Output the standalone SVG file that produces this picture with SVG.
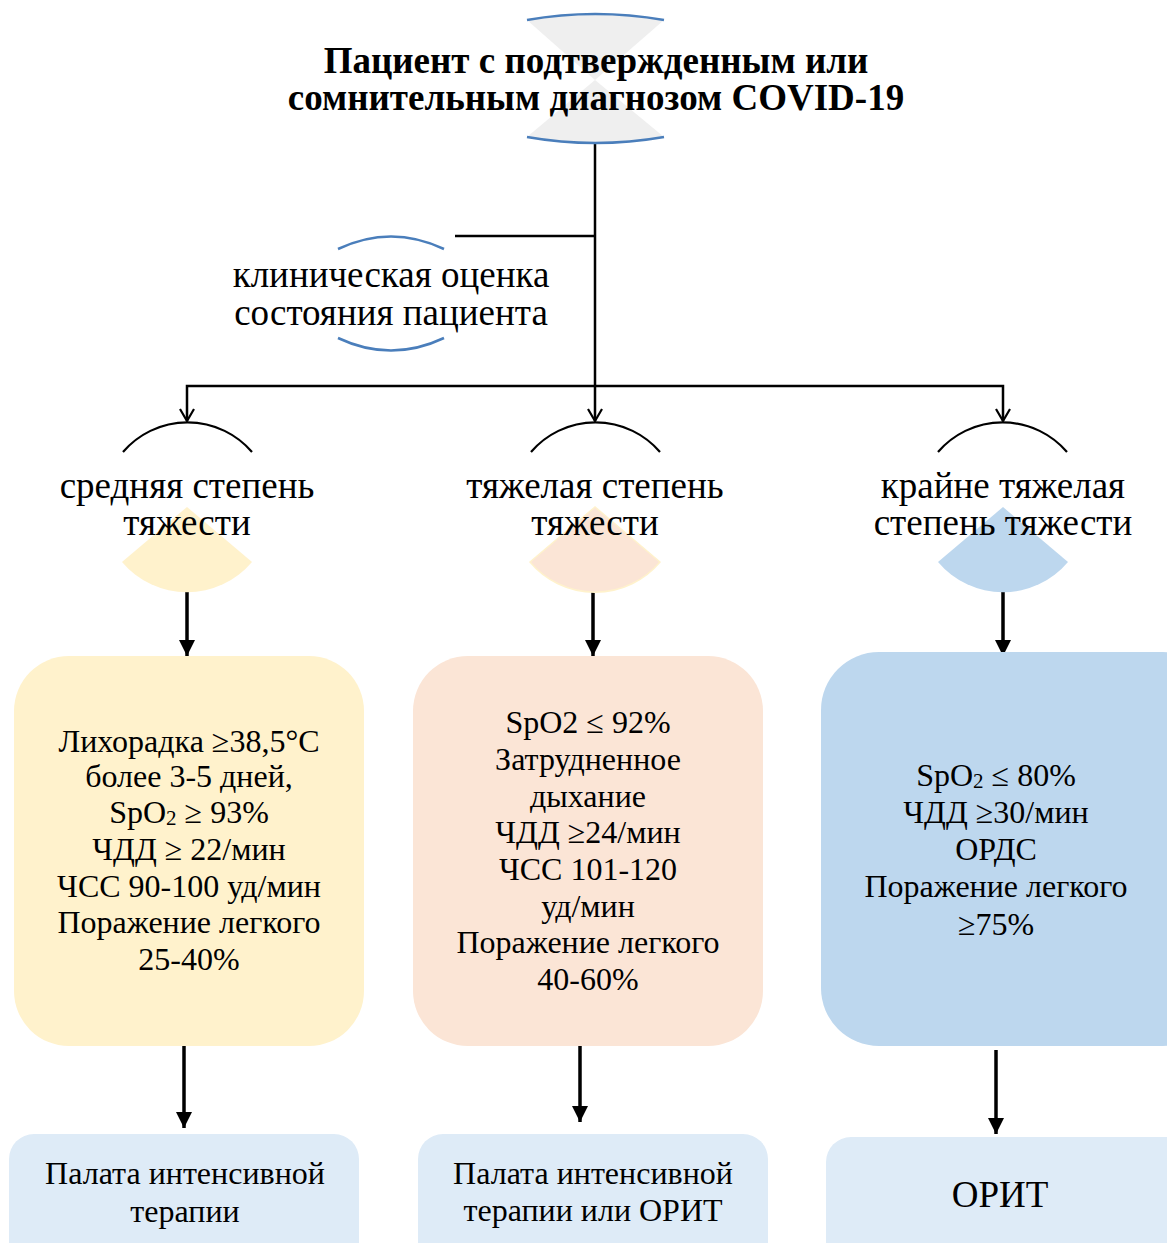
<svg xmlns="http://www.w3.org/2000/svg" width="1167" height="1243" viewBox="0 0 1167 1243" font-family="'Liberation Serif', 'Times New Roman', serif">
<defs>
<style>
text{font-family:"Liberation Serif","Times New Roman",serif;fill:#000;text-anchor:middle}
.title{font-size:37px;font-weight:bold}
.lbl{font-size:37px}
.box{font-size:32px}
.bot{font-size:32px}
.orit{font-size:37px}
.blue{fill:none;stroke:#4a7ebb;stroke-width:2.5}
.blk{fill:none;stroke:#000;stroke-width:2.2}
.conn{fill:none;stroke:#000;stroke-width:2.5}
.thick{fill:none;stroke:#000;stroke-width:3.5}
</style>
<marker id="openArrow" markerWidth="16" markerHeight="16" refX="14" refY="8" orient="auto-start-reverse" markerUnits="userSpaceOnUse" viewBox="0 0 16 16">
<polyline points="2,1 14,8 2,15" fill="none" stroke="#000" stroke-width="2.2"/>
</marker>
<marker id="fillArrow" markerWidth="16" markerHeight="16" refX="16" refY="8" orient="auto" markerUnits="userSpaceOnUse" viewBox="0 0 16 16">
<polygon points="0,0 16,8 0,16" fill="#000"/>
</marker>
</defs>

<g id="connectors">
<line class="conn" x1="595" y1="143" x2="595" y2="421" marker-end="url(#openArrow)"/>
<line class="conn" x1="455" y1="236" x2="595" y2="236"/>
<polyline class="conn" points="187,421 187,386 1003,386 1003,421" marker-start="url(#openArrow)" marker-end="url(#openArrow)"/>
<line class="thick" x1="187" y1="592" x2="187" y2="656" marker-end="url(#fillArrow)"/>
<line class="thick" x1="593" y1="592" x2="593" y2="656" marker-end="url(#fillArrow)"/>
<line class="thick" x1="1003" y1="592" x2="1003" y2="656" marker-end="url(#fillArrow)"/>
<line class="thick" x1="184" y1="1046" x2="184" y2="1128" marker-end="url(#fillArrow)"/>
<line class="thick" x1="580" y1="1040" x2="580" y2="1122" marker-end="url(#fillArrow)"/>
<line class="thick" x1="996" y1="1050" x2="996" y2="1134" marker-end="url(#fillArrow)"/>
</g>

<g id="start">
<path d="M527,20 Q595,8 664,20 L595,80 L664,137 Q595,149 527,137 L595,80 Z" fill="#efefef"/>
<path class="blue" d="M527,20 Q595,8 664,20"/>
<path class="blue" d="M527,137 Q595,149 664,137"/>
<text class="title" x="596" y="73">Пациент с подтвержденным или</text>
<text class="title" x="596" y="110">сомнительным диагнозом COVID-19</text>
</g>

<g id="assessment">
<path class="blue" d="M338,249 Q391,224 444,249"/>
<path class="blue" d="M338,338 Q391,363 444,338"/>
<text class="lbl" x="391" y="287">клиническая оценка</text>
<text class="lbl" x="391" y="325">состояния пациента</text>
</g>

<g id="moderate">
<path class="blk" d="M123,452 A85,85 0 0 1 252,452"/>
<path d="M187,507 L122,562 A85,85 0 0 0 252,562 Z" fill="#fff2cc"/>
<text class="lbl" x="187" y="498">средняя степень</text>
<text class="lbl" x="187" y="535">тяжести</text>
</g>

<g id="severe">
<path class="blk" d="M531,452 A85,85 0 0 1 660,452"/>
<path d="M595,507 L530,562 A85,85 0 0 0 660,562 Z" fill="#fbe5d6" stroke="#fff2cc" stroke-width="1.5"/>
<text class="lbl" x="595" y="498">тяжелая степень</text>
<text class="lbl" x="595" y="535">тяжести</text>
</g>

<g id="critical">
<path class="blk" d="M938,452 A85,85 0 0 1 1067,452"/>
<path d="M1003,507 L938,562 A85,85 0 0 0 1068,562 Z" fill="#bdd7ee"/>
<text class="lbl" x="1003" y="498">крайне тяжелая</text>
<text class="lbl" x="1003" y="535">степень тяжести</text>
</g>

<g id="box-moderate">
<rect x="14" y="656" width="350" height="390" rx="55" fill="#fff2cc"/>
<text class="box" x="189" y="752">Лихорадка ≥38,5°C</text>
<text class="box" x="189" y="787">более 3-5 дней,</text>
<text class="box" x="189" y="823">SpO<tspan font-size="21" dy="2">2</tspan><tspan dy="-2"> ≥ 93%</tspan></text>
<text class="box" x="189" y="860">ЧДД ≥ 22/мин</text>
<text class="box" x="189" y="897">ЧСС 90-100 уд/мин</text>
<text class="box" x="189" y="933">Поражение легкого</text>
<text class="box" x="189" y="970">25-40%</text>
</g>

<g id="box-severe">
<rect x="413" y="656" width="350" height="390" rx="55" fill="#fbe5d6"/>
<text class="box" x="588" y="733">SpO2 ≤ 92%</text>
<text class="box" x="588" y="770">Затрудненное</text>
<text class="box" x="588" y="807">дыхание</text>
<text class="box" x="588" y="843">ЧДД ≥24/мин</text>
<text class="box" x="588" y="880">ЧСС 101-120</text>
<text class="box" x="588" y="917">уд/мин</text>
<text class="box" x="588" y="953">Поражение легкого</text>
<text class="box" x="588" y="990">40-60%</text>
</g>

<g id="box-critical">
<rect x="821" y="652" width="400" height="394" rx="58" fill="#bdd7ee"/>
<text class="box" x="996" y="786">SpO<tspan font-size="21" dy="2">2</tspan><tspan dy="-2"> ≤ 80%</tspan></text>
<text class="box" x="996" y="823">ЧДД ≥30/мин</text>
<text class="box" x="996" y="860">ОРДС</text>
<text class="box" x="996" y="897">Поражение легкого</text>
<text class="box" x="996" y="935">≥75%</text>
</g>

<g id="out-moderate">
<rect x="9" y="1134" width="350" height="140" rx="25" fill="#deebf7"/>
<text class="bot" x="185" y="1184">Палата интенсивной</text>
<text class="bot" x="185" y="1222">терапии</text>
</g>

<g id="out-severe">
<rect x="418" y="1134" width="350" height="140" rx="25" fill="#deebf7"/>
<text class="bot" x="593" y="1184">Палата интенсивной</text>
<text class="bot" x="593" y="1221">терапии или ОРИТ</text>
</g>

<g id="out-critical">
<rect x="826" y="1137" width="400" height="140" rx="25" fill="#deebf7"/>
<text class="orit" x="1000" y="1207">ОРИТ</text>
</g>
</svg>
